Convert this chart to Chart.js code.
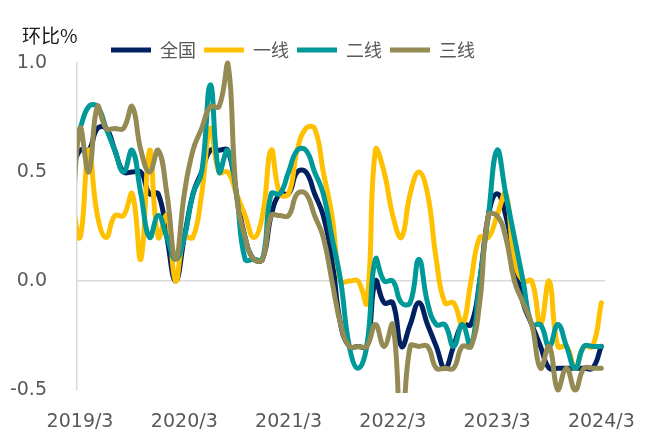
<!DOCTYPE html>
<html lang="zh-CN">
<head>
<meta charset="utf-8">
<title>环比%</title>
<script src="https://cdn.jsdelivr.net/npm/chart.js@4.4.1/dist/chart.umd.min.js"></script>
<style>
  html, body { margin:0; padding:0; background:#fff; }
  #caja { position:relative; width:648px; height:433px; }
  #unidad { position:absolute; left:22px; top:21px; font:19px "Noto Sans CJK SC", sans-serif; color:#1a1a1a; }
</style>
</head>
<body>
<div id="caja">
  <canvas id="grafico" width="648" height="433"></canvas>
  <div id="unidad">环比%</div>
</div>
<script>
// ── Datos (环比 %, mensual; el primer mes queda recortado a la izquierda) ──
const meses = [
  '2019/2','2019/3','2019/4','2019/5','2019/6','2019/7','2019/8','2019/9','2019/10','2019/11','2019/12',
  '2020/1','2020/2','2020/3','2020/4','2020/5','2020/6','2020/7','2020/8','2020/9','2020/10','2020/11','2020/12',
  '2021/1','2021/2','2021/3','2021/4','2021/5','2021/6','2021/7','2021/8','2021/9','2021/10','2021/11','2021/12',
  '2022/1','2022/2','2022/3','2022/4','2022/5','2022/6','2022/7','2022/8','2022/9','2022/10','2022/11','2022/12',
  '2023/1','2023/2','2023/3','2023/4','2023/5','2023/6','2023/7','2023/8','2023/9','2023/10','2023/11','2023/12',
  '2024/1','2024/2','2024/3'
];
const etiquetasX = ['2019/3','2020/3','2021/3','2022/3','2023/3','2024/3'];

const nacional = [0.5,
  0.6,0.6,0.7,0.7,0.6,0.5,0.5,0.5,0.4,0.4,
  0.2,0.0,0.2,0.4,0.5,0.6,0.6,0.6,0.4,0.2,0.1,0.1,
  0.3,0.4,0.4,0.5,0.5,0.4,0.3,0.1,-0.2,-0.3,-0.3,-0.3,
  0.0,-0.1,-0.1,-0.3,-0.2,-0.1,-0.2,-0.3,-0.4,-0.3,-0.2,-0.2,
  0.0,0.3,0.4,0.3,0.1,-0.1,-0.2,-0.3,-0.4,-0.4,-0.4,-0.4,
  -0.4,-0.4,-0.3];
const primerNivel = [0.4,
  0.2,0.6,0.3,0.2,0.3,0.3,0.4,0.1,0.6,0.2,
  0.3,0.0,0.2,0.2,0.4,0.7,0.5,0.5,0.4,0.3,0.2,0.3,
  0.6,0.4,0.4,0.6,0.7,0.7,0.5,0.3,0.0,0.0,0.0,-0.1,
  0.6,0.5,0.3,0.2,0.4,0.5,0.4,0.1,-0.1,-0.1,-0.2,0.0,
  0.2,0.2,0.3,0.4,0.1,0.0,0.0,-0.2,0.0,-0.3,-0.3,-0.4,
  -0.3,-0.3,-0.1];
const segundoNivel = [0.6,
  0.7,0.8,0.8,0.7,0.6,0.5,0.6,0.4,0.2,0.3,
  0.2,0.1,0.2,0.4,0.5,0.9,0.5,0.6,0.4,0.1,0.1,0.1,
  0.4,0.4,0.5,0.6,0.6,0.5,0.4,0.2,0.0,-0.3,-0.4,-0.3,
  0.1,0.0,0.0,-0.1,-0.1,0.1,-0.1,-0.2,-0.2,-0.3,-0.2,-0.3,
  0.0,0.3,0.6,0.4,0.2,0.0,-0.2,-0.2,-0.3,-0.2,-0.3,-0.4,
  -0.3,-0.3,-0.3];
const tercerNivel = [0.2,
  0.7,0.5,0.8,0.7,0.7,0.7,0.8,0.6,0.5,0.6,
  0.4,0.1,0.4,0.6,0.7,0.8,0.8,1.0,0.4,0.2,0.1,0.1,
  0.3,0.3,0.3,0.4,0.4,0.3,0.2,0.0,-0.2,-0.3,-0.3,-0.3,
  -0.2,-0.3,-0.2,-0.7,-0.3,-0.3,-0.3,-0.4,-0.4,-0.4,-0.3,-0.3,
  -0.1,0.3,0.3,0.2,0.0,-0.1,-0.2,-0.4,-0.3,-0.5,-0.4,-0.5,
  -0.4,-0.4,-0.4];

// posición en el eje: 2019/3 = 0
const puntos = (valores) => valores.map((v, k) => ({ x: k - 1, y: v }));
const posEtiquetas = etiquetasX.map(e => meses.indexOf(e) - 1);

const FUENTE_NUM = '"DejaVu Sans", sans-serif';
const FUENTE_CJK = '"Noto Sans CJK SC", sans-serif';

const linea = (label, valores, color, orden) => ({
  label, data: puntos(valores), borderColor: color, backgroundColor: color,
  borderWidth: 5, pointRadius: 0, tension: 0.45, fill: false,
  borderCapStyle: 'round', borderJoinStyle: 'round', order: orden,
  clip: { left: 0, top: 3, right: 3, bottom: 3 }
});

// mueve la leyenda a su sitio sin tocar el área del gráfico
const ajusteLeyenda = {
  id: 'ajusteLeyenda',
  afterLayout(chart) {
    const lg = chart.legend;
    lg.left -= 12; lg.right -= 12;
    lg.top += 6; lg.bottom += 6;
  }
};

new Chart(document.getElementById('grafico'), {
  type: 'line',
  data: {
    datasets: [
      linea('全国', nacional, '#002060', 4),
      linea('一线', primerNivel, '#FFC000', 3),
      linea('二线', segundoNivel, '#009999', 2),
      linea('三线', tercerNivel, '#948A54', 1),
    ]
  },
  options: {
    responsive: false, animation: false,
    layout: { padding: { left: 0, right: 38, top: 27, bottom: 0 } },
    plugins: {
      tooltip: { enabled: false },
      legend: {
        position: 'top', align: 'center',
        labels: {
          usePointStyle: true, pointStyle: 'line', pointStyleWidth: 40, padding: 8,
          color: '#595959', font: { family: FUENTE_CJK, size: 18 },
          sort: (a, b) => a.datasetIndex - b.datasetIndex
        }
      }
    },
    scales: {
      x: {
        type: 'linear', min: -0.35, max: 60.45,
        afterBuildTicks: (s) => { s.ticks = posEtiquetas.map(v => ({ value: v })); },
        afterFit: (s) => { s.height = 43; },
        grid: { display: false }, border: { display: false },
        ticks: {
          autoSkip: false, maxRotation: 0, padding: 13, color: '#595959',
          font: { family: FUENTE_NUM, size: 19 },
          callback: (v) => meses[v + 1]
        }
      },
      y: {
        min: -0.5, max: 1.0,
        afterFit: (s) => { s.width = 77; },
        grid: { drawTicks: false, lineWidth: 1.5,
          color: (c) => c.tick && c.tick.value === 0 ? '#D9D9D9' : 'rgba(0,0,0,0)' },
        border: { display: true, color: '#D9D9D9', width: 1.5 },
        ticks: {
          stepSize: 0.5, padding: 30, color: '#595959',
          font: { family: FUENTE_NUM, size: 19 },
          callback: (v) => v.toFixed(1)
        }
      }
    }
  },
  plugins: [ajusteLeyenda]
});
</script>
</body>
</html>
